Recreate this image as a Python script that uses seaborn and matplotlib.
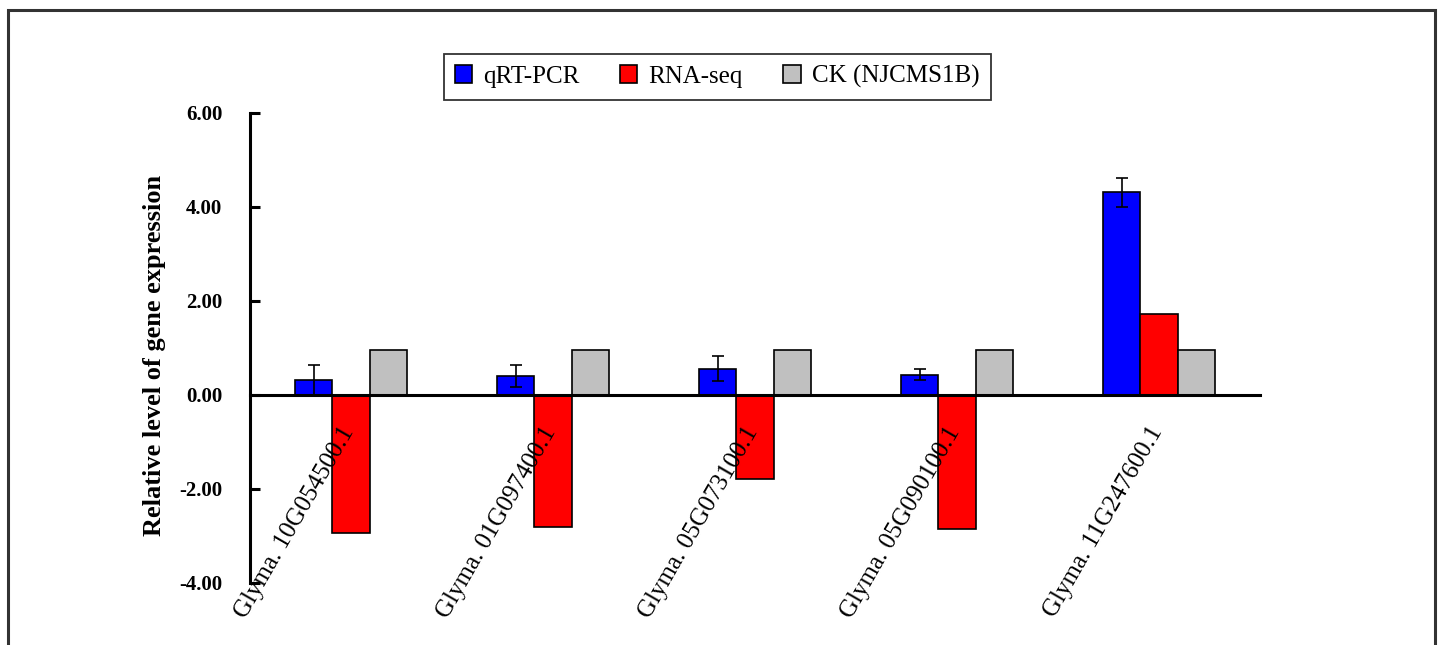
import matplotlib
matplotlib.use("Agg")
import matplotlib.pyplot as plt
from matplotlib.patches import Rectangle
import numpy as np
import pandas as pd
import seaborn as sns

# Gene IDs and expression values
genes = ["Glyma. 10G054500.1", "Glyma. 01G097400.1", "Glyma. 05G073100.1",
         "Glyma. 05G090100.1", "Glyma. 11G247600.1"]
series = ["qRT-PCR", "RNA-seq", "CK (NJCMS1B)"]
qrt_pcr = [0.31, 0.40, 0.56, 0.43, 4.31]
qrt_pcr_err = [0.32, 0.23, 0.27, 0.12, 0.31]
rna_seq = [-2.93, -2.80, -1.78, -2.85, 1.72]
ck = [0.95, 0.95, 0.95, 0.95, 0.95]
yticks = [-4, -2, 0, 2, 4, 6]
colors = ["#0000FF", "#FF0000", "#C0C0C0"]

df = pd.DataFrame({
    "gene": genes * 3,
    "series": [series[0]] * 5 + [series[1]] * 5 + [series[2]] * 5,
    "value": qrt_pcr + rna_seq + ck,
})

sns.set_theme(style="white")
plt.rcParams["font.family"] = ["Liberation Serif", "DejaVu Serif"]
plt.rcParams.update({"text.color": "black", "axes.labelcolor": "black",
                     "xtick.color": "black", "ytick.color": "black"})

fig = plt.figure(figsize=(14.4, 6.45), dpi=100)
ax = fig.add_axes([250 / 1440, 1 - 583 / 645, 1010 / 1440, 470 / 645])

sns.barplot(data=df, x="gene", y="value", hue="series", order=genes,
            hue_order=series, palette=colors, width=0.55, errorbar=None,
            edgecolor="black", linewidth=1.2, saturation=1, ax=ax)

# error bars on the qRT-PCR bars
for bar, err in zip(ax.containers[0], qrt_pcr_err):
    cx = bar.get_x() + bar.get_width() / 2
    ax.errorbar(cx, bar.get_height(), yerr=err, fmt="none", ecolor="black",
                elinewidth=1.2, capsize=4.5, capthick=1.2, zorder=5)

ax.set_xlim(-0.5, len(genes) - 0.5)
ax.set_ylim(-4, 6)
ax.set_yticks(yticks)
ax.set_yticklabels([f"{v:.2f}" for v in yticks], fontsize=15, fontweight="bold")

# tick marks sit on the boundaries between genes
ax.set_xticks(np.arange(len(genes) + 1) - 0.5)
ax.set_xticklabels([])
ax.tick_params(axis="x", which="major", direction="in", length=7, width=2.2)
ax.tick_params(axis="y", direction="in", length=7, width=2.2, pad=20, left=True)

# slanted gene names hanging below the zero line
for i, g in enumerate(genes):
    ax.annotate(g, xy=(i, 0), xycoords="data", xytext=(-8, -20),
                textcoords="offset points", rotation=60, ha="right", va="top",
                rotation_mode="anchor", fontsize=18, color="black",
                annotation_clip=False)

ax.spines["bottom"].set_position(("data", 0))
for s in ["top", "right"]:
    ax.spines[s].set_visible(False)
for s in ["left", "bottom"]:
    ax.spines[s].set_linewidth(2.2)
    ax.spines[s].set_color("black")

ax.set_xlabel("")
ax.set_ylabel("Relative level of gene expression", fontsize=19, fontweight="bold")
ax.yaxis.set_label_coords(-0.083, 0.485)

leg = ax.legend(loc="center", bbox_to_anchor=(0.498, 0.881),
                bbox_transform=fig.transFigure, ncol=3, fontsize=18,
                frameon=True, fancybox=False, edgecolor="black",
                handlelength=0.7, handleheight=0.7, handletextpad=0.45,
                columnspacing=1.6, borderpad=0.45, title=None)
leg.get_frame().set_linewidth(1.3)

# outer frame around the figure
fig.patches.append(Rectangle((8 / 1440, -0.05), 1427 / 1440, 1.05 - 10 / 645,
                             transform=fig.transFigure, fill=False,
                             edgecolor="#333333", linewidth=2.2))

fig.savefig("out.png", dpi=100, facecolor="white")
